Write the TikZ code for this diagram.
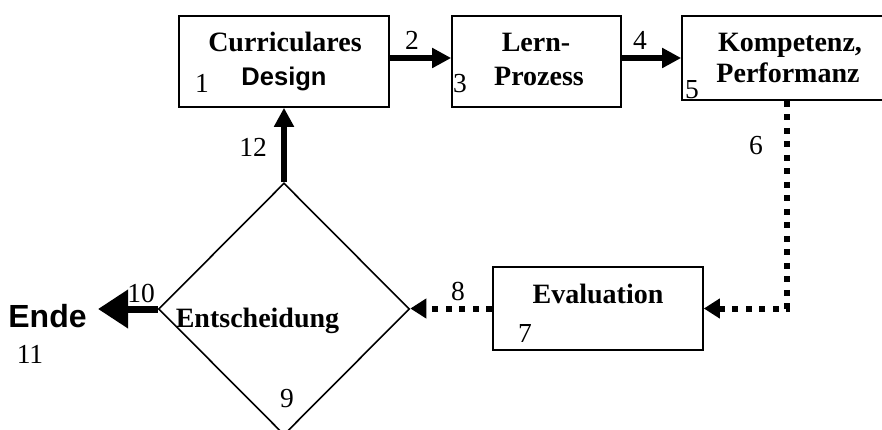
\documentclass[tikz,border=0pt]{standalone}
\usepackage{fontspec}
\setmainfont{Liberation Serif}
\setsansfont{Liberation Sans}
\usetikzlibrary{arrows.meta,shapes.geometric}
\begin{document}
\begin{tikzpicture}[x=1pt,y=-1pt,
  box/.style={draw, line width=1.6pt, inner sep=0pt},
  lbl/.style={font=\fontsize{28}{30}\selectfont\bfseries, anchor=base, inner sep=0pt},
  slbl/.style={font=\fontsize{25.5}{30}\selectfont\sffamily\bfseries, anchor=base, inner sep=0pt},
  num/.style={font=\fontsize{27.5}{30}\selectfont, anchor=base, inner sep=0pt},
  solidarrow/.style={line width=6.5pt, -{Triangle[length=19pt,width=19pt]}},
  bigarrow/.style={line width=7pt, -{Triangle[length=30pt,width=37pt]}},
  dotline/.style={line width=6pt, dash pattern=on 6pt off 7.5pt, -{Triangle[length=16pt,width=19pt]}},
]
\useasboundingbox (0,0) rectangle (882,430);
% boxes
\node[box, minimum width=210pt, minimum height=91pt] (cd) at (284,61.5) {};
\node[box, minimum width=169pt, minimum height=91pt] (lp) at (536.5,61.5) {};
\node[box, minimum width=218pt, minimum height=84pt] (kp) at (791,58) {};
\node[box, minimum width=210pt, minimum height=83pt] (ev) at (598,308.5) {};
\node[draw, line width=1.6pt, diamond, inner sep=0pt, minimum width=251pt, minimum height=252pt] (dec) at (284,309) {};
\coordinate (endtip) at (98,309);
% texts
\node[lbl] (t1a) at (285,52) {Curriculares};
\node[slbl] (t1b) at (284,86) {Design};
\node[lbl] (t2a) at (536,52) {Lern-};
\node[lbl] (t2b) at (539,86) {Prozess};
\node[lbl] (t3a) at (790,52) {Kompetenz,};
\node[lbl] (t3b) at (788,83) {Performanz};
\node[lbl] (t4) at (598,303) {Evaluation};
\node[lbl] (t5) at (257.5,327) {Entscheidung};
\node[font=\fontsize{32}{36}\selectfont\sffamily\bfseries, anchor=base, inner sep=0pt] (ende) at (47.5,327) {Ende};
% numbers
\node[num] (n1) at (202,93) {1};
\node[num] (n2) at (412,50) {2};
\node[num] (n3) at (460,93) {3};
\node[num] (n4) at (640,50) {4};
\node[num] (n5) at (692,99) {5};
\node[num] (n6) at (756,155) {6};
\node[num] (n7) at (525,342) {7};
\node[num] (n8) at (458,300) {8};
\node[num] (n9) at (287,407) {9};
\node[num] (n10) at (141,302) {10};
\node[num] (n11) at (30,363) {11};
\node[num] (n12) at (253,157) {12};
% connectors
\draw[solidarrow] ([yshift=3.5pt]cd.east) -- ([yshift=3.5pt]lp.west);
\draw[solidarrow] ([yshift=3.5pt]lp.east) -- (kp.west);
\draw[solidarrow] (dec.north) -- (cd.south);
\draw[bigarrow] (dec.west) -- (endtip);
\draw[dotline] ([xshift=-4pt]kp.south) |- (ev.east);
\draw[dotline] (ev.west) -- (ev.west -| dec.east);
\end{tikzpicture}
\end{document}
